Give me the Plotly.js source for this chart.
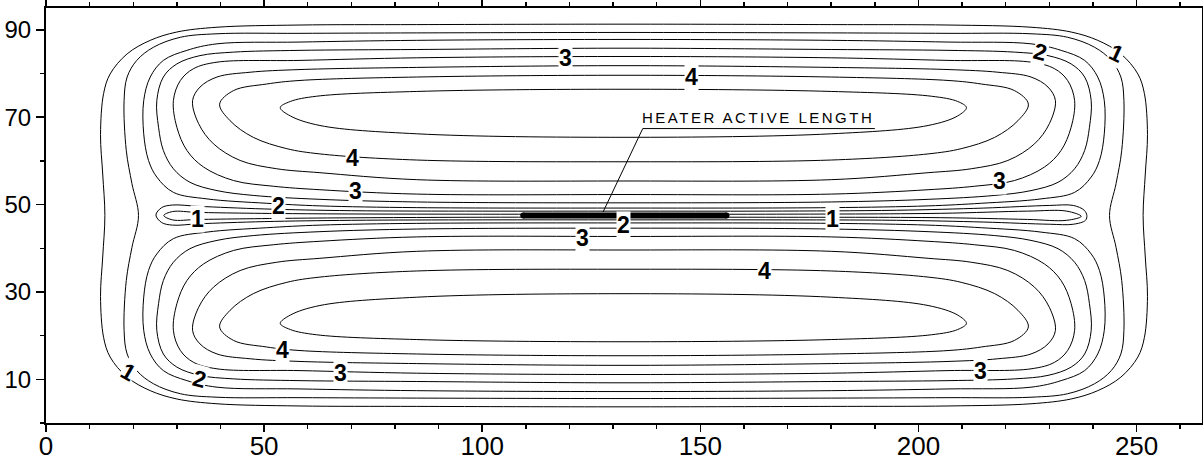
<!DOCTYPE html>
<html>
<head>
<meta charset="utf-8">
<script src="https://cdn.plot.ly/plotly-3.0.1.min.js"></script>
<style>html,body{margin:0;padding:0;background:#fff;}#chart{width:1203px;height:461px;}</style>
</head>
<body>
<div id="chart"></div>
<script>
// ---- contour lines (x, y in plot units) ----
const loopA_x = [132.5,85,58,39.2,30,23.9,18.6,14.7,13.2,12.5,13.0,13.5,13.0,12.5,13.2,14.7,18.6,23.9,30,39.2,58,85,132.5,180,207,225.8,235,241.1,246.4,250.3,251.8,252.5,252,251.5,252,252.5,251.8,250.3,246.4,241.1,235,225.8,207,180,132.5];
const loopA_y = [91.3,91.2,91.1,90.6,89.5,87.6,84.5,79.9,75.4,66,57,47.5,38,29,19.6,15.1,10.5,7.4,5.5,4.4,3.9,3.8,3.7,3.8,3.9,4.4,5.5,7.4,10.5,15.1,19.6,29,38,47.5,57,66,75.4,79.9,84.5,87.6,89.5,90.6,91.1,91.2,91.3];

const loopB_x = [132.5,85,58,39.2,30.8,24.6,20.8,18.6,17.9,18.4,19.7,21.2,19.7,18.4,17.9,18.6,20.8,24.6,30.8,39.2,58,85,132.5,180,207,225.8,234.2,240.4,244.2,246.4,247.1,246.6,245.3,243.8,245.3,246.6,247.1,246.4,244.2,240.4,234.2,225.8,207,180,132.5];
const loopB_y = [89.4,89.3,89.2,89.1,88.3,86.0,83.0,79.2,73.8,62.4,54.8,47.5,40.2,32.6,21.2,15.8,12.0,9.0,6.7,5.9,5.8,5.7,5.6,5.7,5.8,5.9,6.7,9.0,12.0,15.8,21.2,32.6,40.2,47.5,54.8,62.4,73.8,79.2,83.0,86.0,88.3,89.1,89.2,89.3,89.4];

const loopC_x = [132.5,85,58,39.2,32.3,26.9,23.9,22.4,22.4,23.5,25.4,29.2,36.9,50.6,62.8,85,132.5,180,202.2,214.4,228.1,235.8,239.6,241.5,242.6,242.6,241.1,238.1,232.7,225.8,207,180,132.5];
const loopC_y = [87.8,87.6,87.2,86.8,85.3,83.0,79.2,73.8,66.2,60.1,56.3,52.8,51.3,50.3,49.7,49.3,49.2,49.3,49.7,50.3,51.3,52.8,56.3,60.1,66.2,73.8,79.2,83.0,85.3,86.8,87.2,87.6,87.8];

const loopD_x = [132.5,85,58,43,35.3,30,26.9,25.4,25.8,26.9,29.2,33,39.2,47.5,62.8,85,132.5,180,202.2,217.5,225.8,232,235.8,238.1,239.2,239.6,238.1,235,229.7,222,207,180,132.5];
const loopD_y = [85.8,85.5,85.3,84.9,84.1,82.2,79.2,73.8,67.7,62.4,58.2,55.1,53.2,52.1,51.2,50.6,50.4,50.6,51.2,52.1,53.2,55.1,58.2,62.4,67.7,73.8,79.2,82.2,84.1,84.9,85.3,85.5,85.8];

const loopE_x = [132.5,85,58,39.2,33.8,30.8,29.2,30,32.3,36.1,43,52.1,62.8,85,132.5,180,202.2,212.9,222,228.9,232.7,235,235.8,234.2,231.2,225.8,207,180,132.5];
const loopE_y = [83.9,83.6,83.0,82.6,81.1,78.4,73.8,67.7,62.4,58.6,55.5,54.2,53.4,52.4,52.3,52.4,53.4,54.2,55.5,58.6,62.4,67.7,73.8,78.4,81.1,82.6,83.0,83.6,83.9];

const loopF_x = [132.5,85,58,46.8,39.2,35.3,33.6,35,38.4,44.5,52.9,62.8,85,132.5,180,202.2,212.1,220.5,226.6,230,231.4,229.7,225.8,218.2,207,180,132.5];
const loopF_y = [81.8,81.4,80.9,80.3,79.2,76.9,73.8,68.5,63.9,60.1,58.2,57.3,55.7,55.4,55.7,57.3,58.2,60.1,63.9,68.5,73.8,76.9,79.2,80.3,80.9,81.4,81.8];

const loopG_x = [132.5,85,58,50.6,43,39.8,42.2,47.5,55.2,62.8,85,132.5,180,202.2,209.8,217.5,222.8,225.2,222,214.4,207,180,132.5];
const loopG_y = [79.6,79.2,78.4,77.6,76.1,73,69.2,65.4,62.8,61.6,60.2,59.8,60.2,61.6,62.8,65.4,69.2,73,76.1,77.6,78.4,79.2,79.6];

const loopH_x = [132.5,85,62,56,53.7,56,62.8,85,132.5,180,202.2,209,211,209,203,180,132.5];
const loopH_y = [76.4,75.9,74.8,73.6,72.2,70.3,68.1,66.2,65.4,66.2,68.1,70.3,72.2,73.6,74.8,75.9,76.4];

const loopC2_x = loopC_x.slice();
const loopC2_y = [7.2,7.4,7.8,8.2,9.7,12.0,15.8,21.2,28.8,34.9,38.7,42.2,43.7,44.7,45.3,45.7,45.8,45.7,45.3,44.7,43.7,42.2,38.7,34.9,28.8,21.2,15.8,12.0,9.7,8.2,7.8,7.4,7.2];

const loopD2_x = loopD_x.slice();
const loopD2_y = [9.2,9.5,9.7,10.1,10.9,12.8,15.8,21.2,27.3,32.6,36.8,39.9,41.8,42.9,43.8,44.4,44.6,44.4,43.8,42.9,41.8,39.9,36.8,32.6,27.3,21.2,15.8,12.8,10.9,10.1,9.7,9.5,9.2];

const loopE2_x = loopE_x.slice();
const loopE2_y = [11.1,11.4,12.0,12.4,13.9,16.6,21.2,27.3,32.6,36.4,39.5,40.8,41.6,42.6,42.7,42.6,41.6,40.8,39.5,36.4,32.6,27.3,21.2,16.6,13.9,12.4,12.0,11.4,11.1];

const loopF2_x = loopF_x.slice();
const loopF2_y = [13.2,13.6,14.1,14.7,15.8,18.1,21.2,26.5,31.1,34.9,36.8,37.7,39.3,39.6,39.3,37.7,36.8,34.9,31.1,26.5,21.2,18.1,15.8,14.7,14.1,13.6,13.2];

const loopG2_x = [132.5,85,58,50.6,43,39.8,42.2,47.5,55.2,62.8,85,132.5,180,202.2,209.8,217.5,222.8,225.2,222,214.4,207,180,132.5];
const loopG2_y = [15.4,15.8,16.6,17.4,18.9,22,25.8,29.6,32.2,33.4,34.8,35.2,34.8,33.4,32.2,29.6,25.8,22,18.9,17.4,16.6,15.8,15.4];

const loopH2_x = [132.5,85,62,56,53.7,56,62.8,85,132.5,180,202.2,209,211,209,203,180,132.5];
const loopH2_y = [18.6,19.1,20.2,21.4,22.8,24.7,26.9,28.8,29.6,28.8,26.9,24.7,22.8,21.4,20.2,19.1,18.6];

const thinOuter_x = [132.5,100,70,50,35,29,26.5,25.2,26.5,29,35,50,70,100,132.5,165,195,215,230,235.5,238.3,238.6,238,235.5,230,215,195,165,132.5];
const thinOuter_y = [48.5,48.5,48.6,49.0,49.6,49.9,49.3,47.6,45.9,45.3,45.6,46.1,46.4,46.5,46.5,46.5,46.4,46.0,45.5,45.5,46.4,47.5,48.7,49.8,49.8,49.2,48.7,48.5,48.5];

const thinInner_x = [132.5,100,60,35,29,27,29,35,60,100,132.5,165,205,225,234,237.3,234,225,205,165,132.5];
const thinInner_y = [47.8,47.8,47.9,48.2,48.4,47.5,46.5,46.6,46.9,47.1,47.1,47.1,47.0,46.6,46.4,47.3,48.5,48.5,48.0,47.8,47.8];

// heater and its leader line
const heaterX = [109.4, 156.0];
const heaterY = [47.5, 47.5];
const leaderX = [127.7, 136.8, 190.0];
const leaderY = [48.3, 67.4, 67.4];

// contour labels
const labelText = ['3','4','2','1','4','3','3','2','1','2','3','1','4','4','2','1','3','3'];
const labelX = [119.0,148.0,228.0,245.3,70.2,70.9,218.6,53.2,34.7,132.3,123.1,180.4,164.8,54.1,35.3,18.9,67.4,214.2];
const labelY = [83.5,79.3,85.0,84.6,60.6,53.0,55.4,49.6,46.6,45.3,42.4,46.8,34.9,16.7,10.0,11.7,11.5,12.0];
const labelAngle = [0,0,15,25,0,0,0,0,0,0,0,0,0,0,15,30,0,0];

const xTicks = [0,50,100,150,200,250];
const yTicks = [10,30,50,70,90];
const heaterLabel = 'HEATER ACTIVE LENGTH';

// ---- build traces ----
const loops = [
  [loopA_x,loopA_y],[loopB_x,loopB_y],
  [loopC_x,loopC_y],[loopD_x,loopD_y],[loopE_x,loopE_y],[loopF_x,loopF_y],[loopG_x,loopG_y],[loopH_x,loopH_y],
  [loopC2_x,loopC2_y],[loopD2_x,loopD2_y],[loopE2_x,loopE2_y],[loopF2_x,loopF2_y],[loopG2_x,loopG2_y],[loopH2_x,loopH2_y],
  [thinOuter_x,thinOuter_y],[thinInner_x,thinInner_y]
];
const traces = loops.map(function(l){
  return {x:l[0], y:l[1], type:'scatter', mode:'lines',
          line:{color:'#000', width:1, shape:'spline', smoothing:1},
          hoverinfo:'skip', showlegend:false};
});
traces.push({x:leaderX, y:leaderY, type:'scatter', mode:'lines',
  line:{color:'#000', width:1}, hoverinfo:'skip', showlegend:false});
traces.push({x:heaterX, y:heaterY, type:'scatter', mode:'lines+markers',
  line:{color:'#000', width:6}, marker:{color:'#000', size:6},
  hoverinfo:'skip', showlegend:false});

const annotations = labelText.map(function(t,i){
  return {x:labelX[i], y:labelY[i], xref:'x', yref:'y', text:t, showarrow:false,
    textangle:labelAngle[i], bgcolor:'#fff', borderpad:0,
    font:{family:'Liberation Sans, Arial, sans-serif', size:23, color:'#000', weight:'bold'}};
});
annotations.push({x:163.2, y:69.9, xref:'x', yref:'y', showarrow:false,
  text:'<span style="letter-spacing:2.5px">'+heaterLabel+'</span>',
  font:{family:'Liberation Sans, Arial, sans-serif', size:15, color:'#000'}});

const layout = {
  width:1203, height:461,
  margin:{l:46, r:1, t:8, b:38},
  paper_bgcolor:'#fff', plot_bgcolor:'#fff',
  showlegend:false,
  xaxis:{range:[0,265], tickvals:xTicks, ticktext:xTicks.map(String),
    ticks:'outside', ticklen:7, tickwidth:1.5, tickcolor:'#000', ticklabelstandoff:-8,
    minor:{dtick:10, tick0:0, ticks:'outside', ticklen:4, tickwidth:1.5, tickcolor:'#000', showgrid:false},
    showline:true, linewidth:2, linecolor:'#000', mirror:'ticks',
    showgrid:false, zeroline:false, fixedrange:true,
    tickfont:{family:'Liberation Sans, Arial, sans-serif', size:26, color:'#000'}},
  yaxis:{range:[0,95], tickvals:yTicks, ticktext:yTicks.map(String),
    ticks:'outside', ticklen:8, tickwidth:1.5, tickcolor:'#000',
    minor:{dtick:10, tick0:0, ticks:'outside', ticklen:4, tickwidth:1.5, tickcolor:'#000', showgrid:false},
    showline:true, linewidth:2, linecolor:'#000', mirror:true,
    showgrid:false, zeroline:false, fixedrange:true,
    tickfont:{family:'Liberation Sans, Arial, sans-serif', size:24, color:'#000'}},
  annotations:annotations
};
Plotly.newPlot('chart', traces, layout, {staticPlot:true, displayModeBar:false});
</script>
</body>
</html>
